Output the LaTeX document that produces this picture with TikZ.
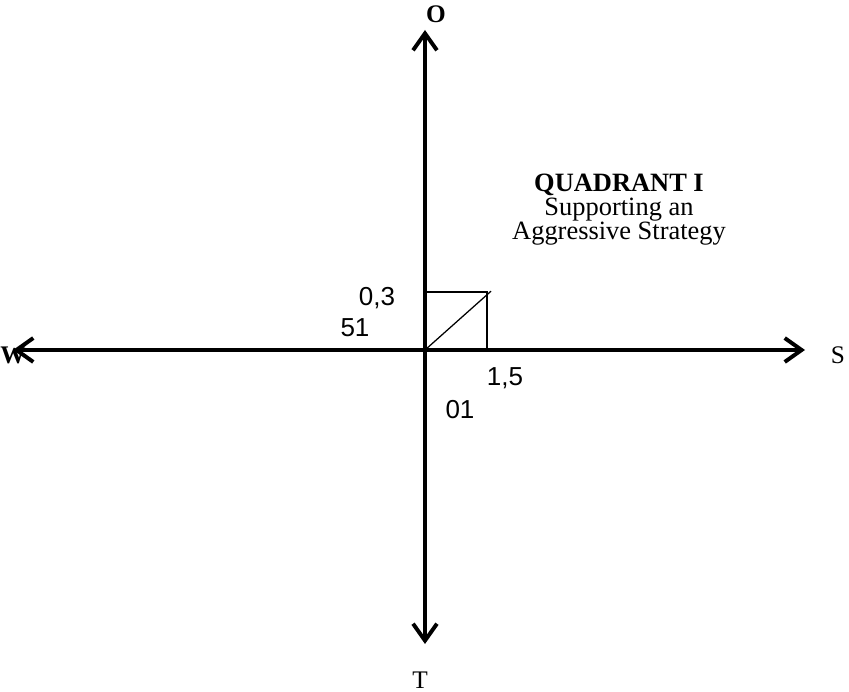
\documentclass[tikz,border=0pt]{standalone}
\usepackage{fontspec}
\setmainfont{Liberation Serif}
\newfontfamily\numfont{Liberation Sans}
\usetikzlibrary{arrows.meta}

\tikzset{
    barb/.tip={Straight Barb[length=12pt, width=17pt, line width=2.8pt]},
    axis/.style={line width=2.8pt, barb-barb},
    thinline/.style={line width=0.9pt},
    numlabel/.style={font=\numfont\fontsize{18.5}{20}\selectfont},
    dirlabel/.style={font=\fontsize{18}{20}\selectfont}
}

\begin{document}
\begin{tikzpicture}

    % fixed frame, same proportions as the page
    \useasboundingbox (-10.625, -8.55) rectangle (10.6, 8.75);

    % --- Axis ends ---
    \coordinate (o) at (0, 0);
    \coordinate (north) at (0, 8.0);
    \coordinate (south) at (0, -7.35);
    \coordinate (west) at (-10.3, 0);
    \coordinate (east) at (9.5, 0);

    % --- The two axes, arrows on both ends ---
    \draw[axis] (west) -- (east);
    \draw[axis] (south) -- (north);

    % Axis names
    \node[dirlabel, font=\bfseries\fontsize{18}{20}\selectfont] (lblO) at (0.275, 8.4) {O};
    \node[dirlabel, font=\bfseries\fontsize{18}{20}\selectfont] (lblW) at (-10.3, -0.125) {W};
    \node[dirlabel] (lblS) at (10.325, -0.125) {S};
    \node[dirlabel] (lblT) at (-0.125, -8.25) {T};

    % --- Position point and its box ---
    \coordinate (pt) at (1.55, 1.45);
    \coordinate (ptx) at (1.55, 0);
    \coordinate (pty) at (0, 1.45);
    \draw[thinline] (pty) -- (pt) -- (ptx);
    \draw[thinline] (o) -- ([shift={(0.1,0.02)}]pt);

    % Values along the axes
    \node[numlabel] (v03) at (-1.2, 1.3) {0,3};
    \node[numlabel] (v51) at (-1.75, 0.55) {51};
    \node[numlabel] (v15) at (2.0, -0.7) {1,5};
    \node[numlabel] (v01) at (0.875, -1.5) {01};

    % Quadrant text (base = last line)
    \node[align=center, anchor=base, font=\fontsize{18.8}{17.2}\selectfont] (quad) at (4.85, 2.75)
        {\textbf{QUADRANT I}\\Supporting an\\Aggressive Strategy};

\end{tikzpicture}
\end{document}
